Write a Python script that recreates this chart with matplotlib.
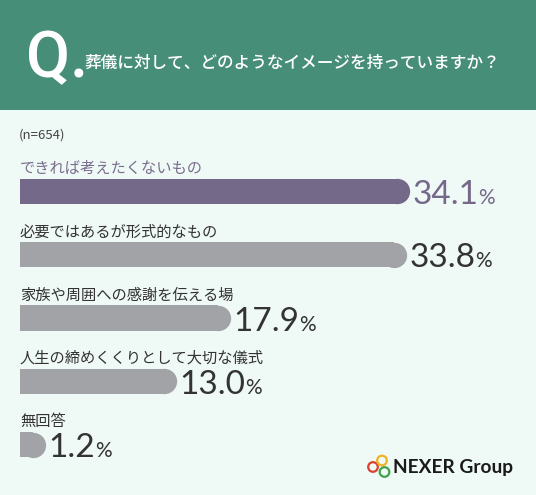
import matplotlib.pyplot as plt
from matplotlib.patches import Rectangle, Circle

categories = ['できれば考えたくないもの', '必要ではあるが形式的なもの', '家族や周囲への感謝を伝える場',
              '人生の締めくくりとして大切な儀式', '無回答']
values = [34.1, 33.8, 17.9, 13.0, 1.2]
value_labels = ['34.1', '33.8', '17.9', '13.0', '1.2']
title = '葬儀に対して、どのようなイメージを持っていますか？'
sample = '(n=654)'

BG = '#eff9f6'
GREEN = '#468e78'
PURPLE = '#756989'
GREY = '#a2a3a6'
DARK = '#333333'
JP = ['Noto Sans CJK JP', 'DejaVu Sans']

fig = plt.figure(figsize=(5.36, 4.95), dpi=100)
fig.patch.set_facecolor(BG)

# overlay in pixel coordinates for header and logo
over = fig.add_axes([0, 0, 1, 1])
over.set_xlim(0, 536)
over.set_ylim(495, 0)
over.axis('off')
over.add_patch(Rectangle((0, 0), 536, 110, color=GREEN, lw=0))
over.text(26, 77, 'Q.', fontsize=46, color='white', family='Roboto', weight='medium', va='baseline')
over.text(84, 63, title, fontsize=12.0, color='white', family=JP, weight='medium', va='center')
over.text(19, 135, sample, fontsize=9.5, color='#444444', family=JP, va='center')

# logo
for cx, cy, c in [(373, 467, '#d9412f'), (382, 460.5, '#f0b323'), (384.5, 472, '#3fa34d')]:
    over.add_patch(Circle((cx, cy), 4.8, fill=False, ec=c, lw=1.6))
over.text(393, 467, 'NEXER Group', fontsize=13.8, color='#1a1a1a', family='Lato', weight='bold', va='center')

# bars
k = 11.07  # px per percent
ax = fig.add_axes([20 / 536, 15 / 495, 496 / 536, 330 / 495])
ax.set_xlim(0, 496 / k)
ax.set_ylim(4.561, -0.656)
ax.axis('off')
ax.patch.set_alpha(0)

ypos = list(range(len(values)))
colors = [PURPLE] + [GREY] * (len(values) - 1)
ax.barh(ypos, values, height=0.4, color=colors, lw=0)
for i, v in enumerate(values):
    ax.plot([v], [i], ls='none', marker='o', markersize=18.2,
            mew=0, color=colors[i], clip_on=False)
    lab_col = '#7a6e8e' if i == 0 else DARK
    num_col = PURPLE if i == 0 else DARK
    ax.text(0, i - 0.36, categories[i], fontsize=11, color=lab_col, family=JP, va='center')
    num = ax.annotate(value_labels[i], xy=(v, i + 0.2), xytext=(15, 0), textcoords='offset pixels',
                      fontsize=24, color=num_col, family='Lato', va='baseline',
                      annotation_clip=False)
    ax.annotate('%', xy=(1, 0), xycoords=num, xytext=(0, 2), textcoords='offset pixels',
                fontsize=15, color=num_col, family='Lato', va='bottom',
                annotation_clip=False)

fig.savefig('out.png', dpi=100, facecolor=BG)
